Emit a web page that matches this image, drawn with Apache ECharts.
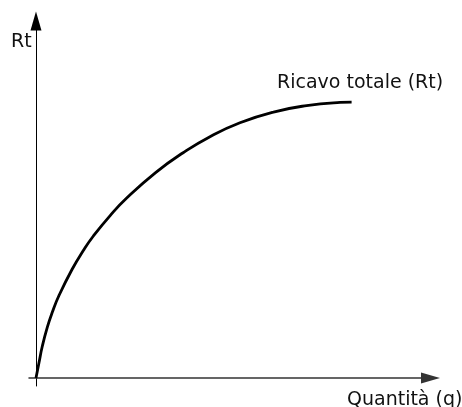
<!DOCTYPE html>
<html>
<head>
<meta charset="utf-8">
<script src="https://cdn.jsdelivr.net/npm/echarts@6/dist/echarts.min.js"></script>
<style>html,body{margin:0;padding:0;background:#fff;}#c{width:462px;height:407px;}</style>
</head>
<body>
<div id="c"></div>
<script>
const quantity = [0, 0.76, 1.60, 2.86, 4.13, 5.83, 9.13, 12.0, 14.5, 18.8, 23.0, 30.4, 37.3, 44.1, 51.7, 60.2, 68.6, 77.1, 80.0];
const revenue  = [0, 4.27, 8.89, 14.2, 18.4, 23.1, 30.4, 35.7, 39.7, 45.5, 50.4, 57.6, 63.1, 67.6, 71.5, 74.5, 76.3, 77.2, 77.3];
const seriesName = 'Ricavo totale (Rt)';
const xName = 'Quantità (q)';
const yName = 'Rt';

const chart = echarts.init(document.getElementById('c'), null, {renderer: 'canvas'});
const font = '"DejaVu Sans", sans-serif';
chart.setOption({
  animation: false,
  backgroundColor: '#fff',
  grid: {left: 29, right: 31.5, top: 21, bottom: 21, containLabel: false},
  xAxis: {
    type: 'value', min: -1.77, max: 100,
    axisLine: {show: true, onZero: true, symbol: ['none', 'triangle'], symbolSize: [11, 19],
      lineStyle: {color: '#333', width: 1.5}},
    axisTick: {show: false}, axisLabel: {show: false}, splitLine: {show: false}
  },
  yAxis: {
    type: 'value', min: -2.24, max: 100,
    axisLine: {show: true, onZero: true, symbol: ['none', 'triangle'], symbolSize: [11, 19],
      lineStyle: {color: '#000', width: 1}},
    axisTick: {show: false}, axisLabel: {show: false}, splitLine: {show: false}
  },
  series: [{
    name: seriesName, type: 'line', smooth: 0.5, showSymbol: false,
    data: quantity.map((q, i) => [q, revenue[i]]),
    lineStyle: {color: '#000', width: 2.8}
  }],
  graphic: [
    {type: 'text', left: 11, top: 33, style: {text: yName, font: '19px ' + font, fill: '#111'}},
    {type: 'text', left: 277, top: 74, style: {text: seriesName, font: '19px ' + font, fill: '#111'}},
    {type: 'text', left: 347, top: 391, style: {text: xName, font: '19px ' + font, fill: '#111'}}
  ]
});
</script>
</body>
</html>
